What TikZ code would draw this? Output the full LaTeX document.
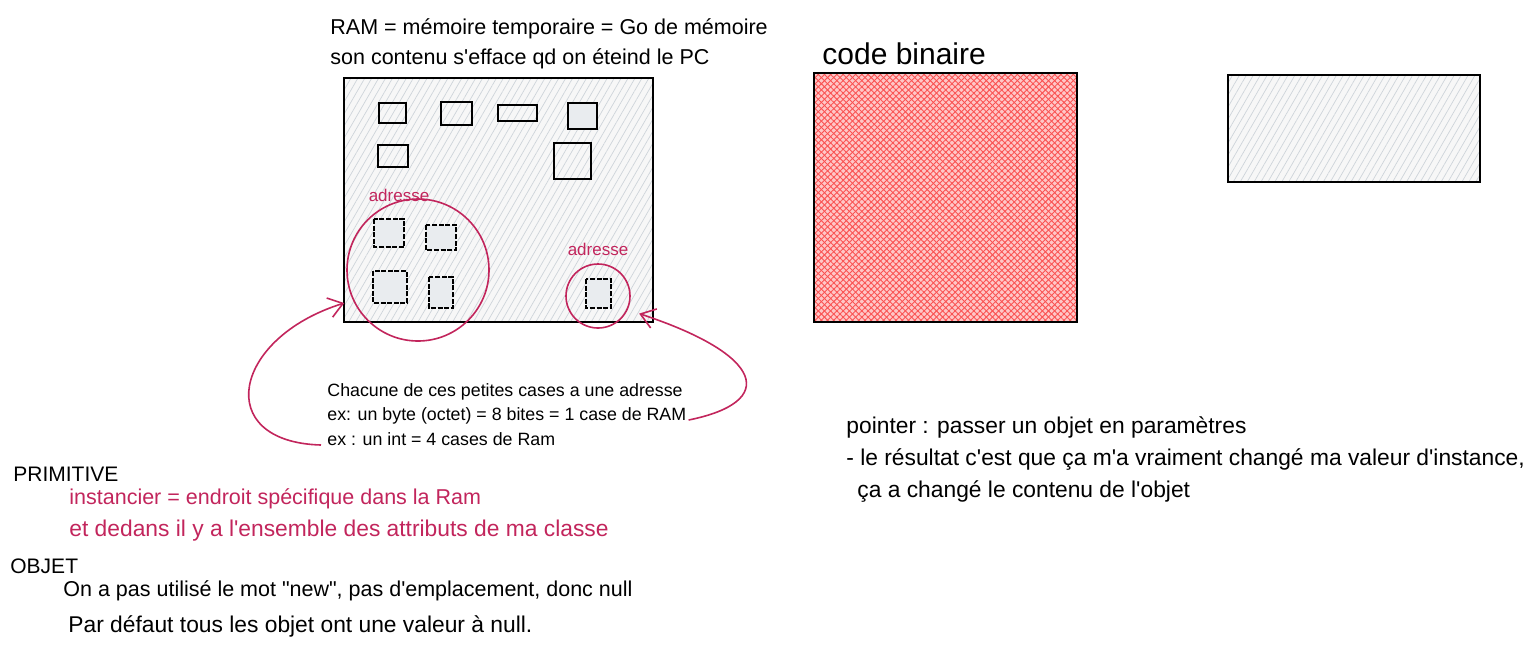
\documentclass[tikz,border=0pt]{standalone}
\usepackage{fontspec}
\setmainfont{Liberation Sans}[Ligatures=TeXOff]
\usetikzlibrary{arrows.meta,patterns.meta}

\definecolor{adrred}{HTML}{C2255C}
\definecolor{binred}{HTML}{FA5252}
\definecolor{hachgray}{HTML}{CED4DA}
\definecolor{cellgray}{HTML}{E9ECEF}

\begin{document}
\begin{tikzpicture}[x=0.5pt,y=-0.5pt,
    bigtxt/.style={anchor=base west, inner sep=0pt, font=\fontsize{10.75}{13}\selectfont},
    widetxt/.style={anchor=base west, inner sep=0pt, font=\fontsize{11.4}{14}\selectfont},
    notetxt/.style={anchor=base west, inner sep=0pt, font=\fontsize{8.9}{10}\selectfont},
    kindtxt/.style={anchor=base west, inner sep=0pt, font=\fontsize{10.5}{13}\selectfont},
    headtxt/.style={anchor=base west, inner sep=0pt, font=\fontsize{15}{18}\selectfont},
    cell/.style={draw=black, line width=0.7pt},
    adrcell/.style={cell, fill=cellgray, dash pattern=on 2.5pt off 0.8pt},
    ring/.style={circle, draw=adrred, line width=0.8pt, inner sep=0pt},
    adrlabel/.style={inner sep=0pt, text=adrred, font=\fontsize{8.5}{10}\selectfont},
    link/.style={draw=adrred, line width=0.8pt, -{Straight Barb[length=7pt, width=10pt]}}
  ]
  % canvas in reference pixels: 1 px = 0.5pt, y grows downwards
  \useasboundingbox (0,0) rectangle (1540,650);

  % RAM block
  \node[bigtxt] (ramA) at (330,34) {RAM = mémoire temporaire = Go de mémoire};
  \node[bigtxt] (ramB) at (330,64) {son contenu s'efface qd on éteind le PC};
  \path[preaction={fill=gray!6}, pattern={Lines[angle=60,distance=3pt,line width=0.35pt]},
    pattern color=hachgray] (344,78) rectangle (653,322);
  \draw[line width=0.9pt] (344,78) rectangle (653,322);

  \foreach \xa/\ya/\xb/\yb in {379/103/406/123, 441/102/472/125, 498/105/537/121,
      378/145/408/167, 554/143/591/179}
    \draw[cell] (\xa,\ya) rectangle (\xb,\yb);
  \draw[cell, fill=cellgray] (568,103) rectangle (597,129);
  \foreach \xa/\ya/\xb/\yb in {374/219/404/247, 426/225/456/250, 373/271/407/303,
      429/277/453/308, 586/279/611/308}
    \draw[adrcell] (\xa,\ya) rectangle (\xb,\yb);

  % address rings
  \node[ring, minimum size=71pt] (bigring) at (418,270) {};
  \node[ring, minimum size=32pt] (smallring) at (598,296) {};
  \node[adrlabel] (adrbig) at (399,195) {adresse};
  \node[adrlabel] (adrsmall) at (598,249) {adresse};

  % note under the RAM
  \node[notetxt] (noteA) at (327,396) {Chacune de ces petites cases a une adresse};
  \node[notetxt] (noteB) at (327,420) {ex: un byte (octet) = 8 bites = 1 case de RAM};
  \node[notetxt] (noteC) at (327,445) {ex : un int = 4 cases de Ram};

  \draw[link, shorten >=4.5pt] ([xshift=-3pt]noteC.base west)
    .. controls (212,442) and (232,338) .. (bigring.205);
  \draw[link, shorten >=6pt] ([xshift=1pt]noteB.base east)
    .. controls (778,402) and (765,355) .. (smallring.335);

  % binary code and the empty box
  \node[headtxt] (binaire) at (822,64) {code binaire};
  \path[preaction={fill=red!22}, pattern={Lines[angle=45,distance=2.2pt,line width=0.45pt]},
    pattern color=binred, postaction={pattern={Lines[angle=-45,distance=2.2pt,line width=0.45pt]},
    pattern color=binred}] (814,73) rectangle (1077,322);
  \draw[line width=0.9pt] (814,73) rectangle (1077,322);

  \path[preaction={fill=gray!6}, pattern={Lines[angle=60,distance=3pt,line width=0.35pt]},
    pattern color=hachgray] (1228,75) rectangle (1480,182);
  \draw[line width=0.9pt] (1228,75) rectangle (1480,182);

  % pointer
  \node[widetxt] (ptrA) at (846,433) {pointer : passer un objet en paramètres};
  \node[widetxt] (ptrB) at (846,465) {- le résultat c'est que ça m'a vraiment changé ma valeur d'instance,};
  \node[widetxt] (ptrC) at (857,497) {ça a changé le contenu de l'objet};

  % primitive / objet
  \node[kindtxt] (primitive) at (13,481) {PRIMITIVE};
  \node[bigtxt, text=adrred] (instA) at (69,504) {instancier = endroit spécifique dans la Ram};
  \node[widetxt, text=adrred] (instB) at (69,536) {et dedans il y a l'ensemble des attributs de ma classe};
  \node[kindtxt] (objet) at (10,573) {OBJET};
  \node[bigtxt] (objA) at (63,596) {On a pas utilisé le mot "new", pas d'emplacement, donc null};
  \node[widetxt] (objB) at (68,632) {Par défaut tous les objet ont une valeur à null.};
\end{tikzpicture}
\end{document}
